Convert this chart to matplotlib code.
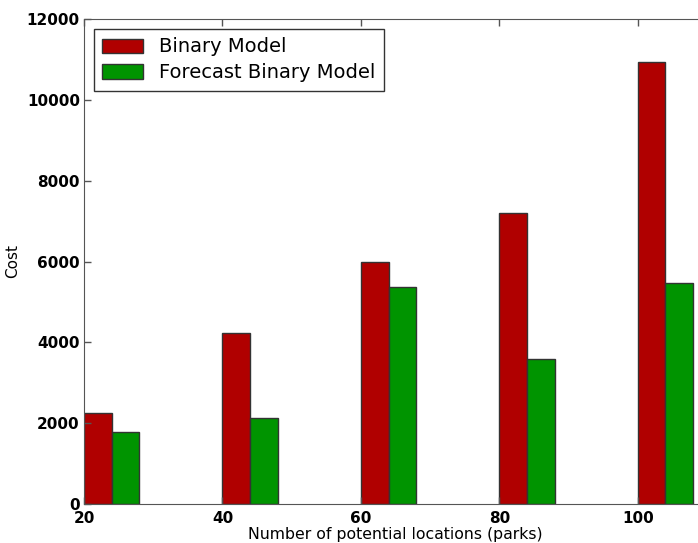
import numpy as np
import matplotlib.pyplot as plt

# cost per number of candidate parks
locations = [20, 40, 60, 80, 100]
binary_cost = [2250, 4230, 6000, 7200, 10940]
forecast_cost = [1790, 2120, 5380, 3600, 5475]
yticks = [0, 2000, 4000, 6000, 8000, 10000, 12000]

bar_w = 4

fig = plt.figure(figsize=(6.98, 5.43), dpi=100)
ax = fig.add_axes([84 / 698, 39 / 543, 623 / 698, 485 / 543])

x = np.array(locations)
ax.bar(x, binary_cost, width=bar_w, align='edge', color='#b00000',
       edgecolor='#333333', linewidth=1.0, label='Binary Model')
ax.bar(x + bar_w, forecast_cost, width=bar_w, align='edge', color='#009400',
       edgecolor='#333333', linewidth=1.0, label='Forecast Binary Model')

ax.set_xlim(20, 110)
ax.set_ylim(0, 12000)
ax.set_xticks(locations)
ax.set_yticks(yticks)

for s in ax.spines.values():
    s.set_color('#555555')
ax.tick_params(direction='in', top=True, right=True, length=5, width=1,
               color='#555555', labelsize=11, pad=3)
ax.tick_params(axis='x', pad=5)
for lab in ax.get_xticklabels() + ax.get_yticklabels():
    lab.set_fontweight('bold')

ax.set_xlabel('Number of potential locations (parks)', fontsize=11.3, labelpad=1)
ax.set_ylabel('Cost', fontsize=11, labelpad=5)

leg = ax.legend(loc='upper left', fontsize=14, handlelength=2.1,
                handleheight=0.75, borderaxespad=0.5, fancybox=False,
                framealpha=1, edgecolor='#333333', borderpad=0.45,
                handletextpad=0.8, labelspacing=0.35)
leg.get_frame().set_linewidth(1.0)

fig.savefig('out.png', dpi=100)
